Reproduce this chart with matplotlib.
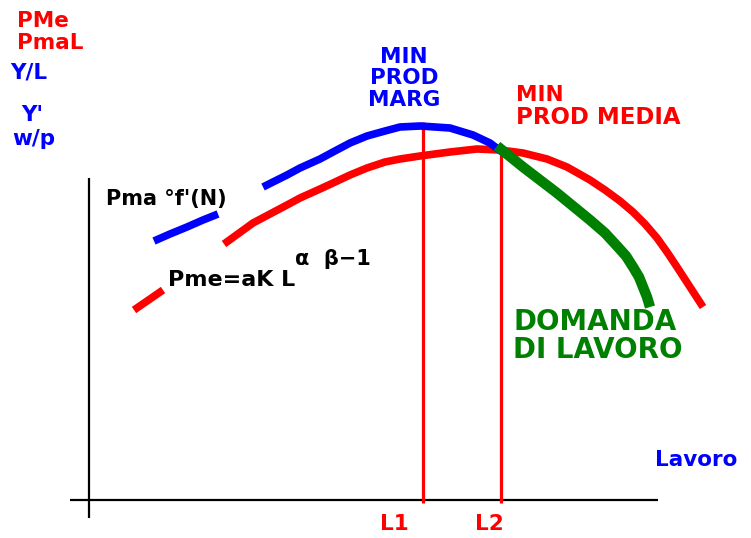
import matplotlib
matplotlib.use("Agg")
import matplotlib.pyplot as plt

# ---- data (read in picture pixel coordinates) ----
blue1_x = [154, 170, 187, 203, 218]
blue1_y = [241, 234, 227, 220, 214]
blue2_x = [263, 287, 300, 320, 333, 350, 367, 385, 400, 420, 450, 473, 490, 502]
blue2_y = [187, 175, 168, 159, 152, 143, 136, 131, 127, 126, 128, 135, 143, 152]

red1_x = [134, 150, 163]
red1_y = [310, 299, 290]
red2_x = [224, 253, 287, 300, 320, 333, 350, 367, 385, 400, 420, 450, 477, 500,
          523, 547, 567, 590, 605, 620, 633, 645, 657, 667, 677, 690, 703]
red2_y = [244, 223, 205, 198, 189, 183, 175, 168, 162, 159, 156, 152, 149, 150,
          153, 159, 167, 180, 190, 201, 212, 224, 238, 252, 267, 287, 307]

green_x = [497, 523, 557, 590, 605, 617, 626, 633, 639, 643, 647, 650]
green_y = [146, 167, 193, 220, 233, 246, 256, 267, 277, 287, 297, 307]

L1_x, L1_top = 423, 122
L2_x, L2_top = 501, 148

RED, BLUE, GREEN = "#ff0000", "#0000ff", "#008000"

fig = plt.figure(figsize=(7.51, 5.38), dpi=100)
ax = fig.add_axes([0, 0, 1, 1])
ax.set_xlim(0, 751)
ax.set_ylim(538, 0)
ax.axis("off")

# axes
ax.plot([89, 89], [178, 518], color="black", lw=1.6, solid_capstyle="butt")
ax.plot([70, 658], [500, 500], color="black", lw=1.6, solid_capstyle="butt")

# vertical lines
ax.plot([L1_x, L1_x], [L1_top, 503], color=RED, lw=2.3, solid_capstyle="butt")
ax.plot([L2_x, L2_x], [L2_top, 503], color=RED, lw=2.3, solid_capstyle="butt")

# curves
kw = dict(solid_capstyle="butt", solid_joinstyle="round")
ax.plot(red1_x, red1_y, color=RED, lw=5.5, **kw)
ax.plot(red2_x, red2_y, color=RED, lw=5.5, **kw)
ax.plot(blue1_x, blue1_y, color=BLUE, lw=5.5, **kw)
ax.plot(blue2_x, blue2_y, color=BLUE, lw=5.5, **kw)
ax.plot(green_x, green_y, color=GREEN, lw=7.5, **kw)

fw = "bold"
fs = 15.5
# y-axis labels
ax.text(17, 21, "PMe", color=RED, fontsize=fs, fontweight=fw, va="center", ha="left")
ax.text(17, 43, "PmaL", color=RED, fontsize=fs, fontweight=fw, va="center", ha="left")
ax.text(10, 73, "Y/L", color=BLUE, fontsize=fs, fontweight=fw, va="center", ha="left")
ax.text(21, 115, "Y'", color=BLUE, fontsize=fs, fontweight=fw, va="center", ha="left")
ax.text(12, 139, "w/p", color=BLUE, fontsize=fs, fontweight=fw, va="center", ha="left")

# annotations
for s, y in [("MIN", 57), ("PROD", 78), ("MARG", 100)]:
    ax.text(404, y, s, color=BLUE, fontsize=fs, fontweight=fw, va="center", ha="center")
ax.text(516, 95, "MIN", color=RED, fontsize=fs, fontweight=fw, va="center", ha="left")
ax.text(516, 117, "PROD MEDIA", color=RED, fontsize=16.5, fontweight=fw, va="center", ha="left")

ax.text(106, 199, "Pma °f'(N)", color="black", fontsize=15, fontweight=fw, va="center", ha="left")
ax.text(168, 280, "Pme=aK L", color="black", fontsize=16, fontweight=fw, va="center", ha="left")
ax.text(295, 259, "α  β−1", color="black", fontsize=15, fontweight=fw, va="center", ha="left")

ax.text(513, 322, "DOMANDA", color=GREEN, fontsize=20, fontweight=fw, va="center", ha="left")
ax.text(513, 350, "DI LAVORO", color=GREEN, fontsize=20, fontweight=fw, va="center", ha="left")

ax.text(655, 460, "Lavoro", color=BLUE, fontsize=fs, fontweight=fw, va="center", ha="left")
ax.text(394, 524, "L1", color=RED, fontsize=fs, fontweight=fw, va="center", ha="center")
ax.text(489, 524, "L2", color=RED, fontsize=fs, fontweight=fw, va="center", ha="center")

fig.savefig("out.png", dpi=100)
